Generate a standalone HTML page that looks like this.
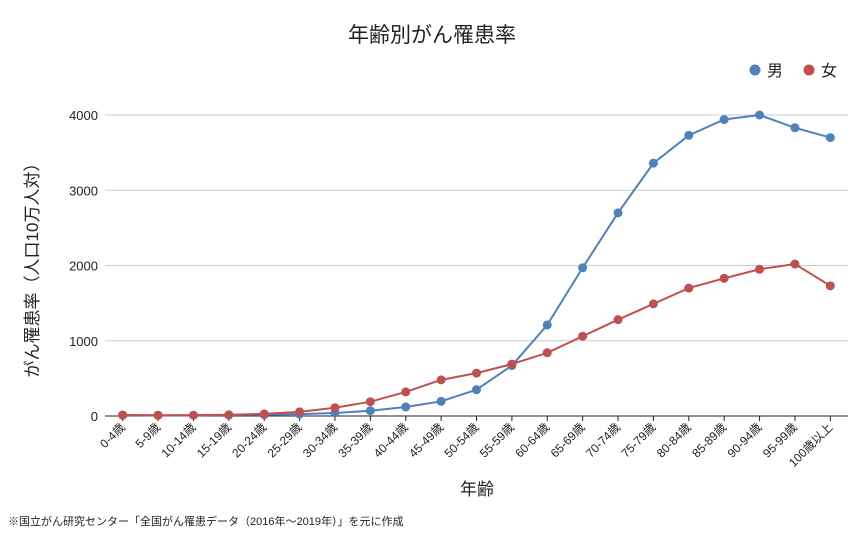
<!DOCTYPE html>
<html><head><meta charset="utf-8"><style>
body{margin:0;background:#fff;}
svg text{font-family:"Liberation Sans","Noto Sans CJK JP",sans-serif;}
</style></head><body>
<svg id="c" width="863" height="537" viewBox="0 0 863 537" xmlns="http://www.w3.org/2000/svg">
<text x="432" y="42" text-anchor="middle" font-size="21" fill="#222">年齢別がん罹患率</text>
<g>
<g><circle cx="755" cy="70" r="5.5" fill="#4f81bd"/><text x="767" y="76" font-size="16" fill="#222">男</text></g>
<g><circle cx="809" cy="70" r="5.5" fill="#c0504d"/><text x="821" y="76" font-size="16" fill="#222">女</text></g>
</g>
<g id="grid"></g>
<g id="plot"></g>
<text transform="translate(38,266) rotate(-90)" text-anchor="middle" font-size="17" fill="#222">がん罹患率（人口10万人対）</text>
<text x="477" y="495" text-anchor="middle" font-size="17" fill="#222">年齢</text>
<text x="8" y="525" font-size="11" fill="#222">※国立がん研究センター「全国がん罹患データ（2016年～2019年）」を元に作成</text>
</svg>
<script>
const categories=["0-4歳","5-9歳","10-14歳","15-19歳","20-24歳","25-29歳","30-34歳","35-39歳","40-44歳","45-49歳","50-54歳","55-59歳","60-64歳","65-69歳","70-74歳","75-79歳","80-84歳","85-89歳","90-94歳","95-99歳","100歳以上"];
const male=[12,10,10,13,18,25,40,70,120,195,350,670,1210,1970,2700,3360,3730,3940,4000,3830,3700];
const female=[12,9,10,16,28,55,110,190,320,480,570,690,840,1060,1280,1490,1700,1830,1950,2020,1730];
const yTicks=[0,1000,2000,3000,4000];
const NS="http://www.w3.org/2000/svg";
const x0=105,x1=848,yBase=416,yTop=115,yMax=4000;
const step=(x1-x0)/categories.length;
const xs=i=>x0+step*(i+0.5);
const ys=v=>yBase-(v/yMax)*(yBase-yTop);
function mk(t,a,p){const e=document.createElementNS(NS,t);for(const k in a)e.setAttribute(k,a[k]);p.appendChild(e);return e;}
const grid=document.getElementById('grid'),plot=document.getElementById('plot');
yTicks.forEach(v=>{
 if(v>0){const l=mk('line',{x1:x0,x2:x1,y1:ys(v),y2:ys(v),stroke:'#ccc','stroke-width':1},grid);
 }
 const t=mk('text',{x:98,y:ys(v)+5,'text-anchor':'end','font-size':13,fill:'#222'},grid);t.textContent=v;
 
});
const ax=mk('line',{x1:x0,x2:x1,y1:yBase,y2:yBase,stroke:'#222','stroke-width':1},grid);

categories.forEach((c,i)=>{
 const tk=mk('line',{x1:xs(i),x2:xs(i),y1:yBase,y2:yBase+5,stroke:'#222'},grid);
 
 const t=mk('text',{transform:`translate(${xs(i)+3},${yBase+12}) rotate(-45)`,'text-anchor':'end','font-size':12,fill:'#222'},grid);
 t.textContent=c;
});
function series(vals,color,name){
 const g=mk('g',{},plot);
 const pl=mk('polyline',{points:vals.map((v,i)=>xs(i)+','+ys(v)).join(' '),fill:'none',stroke:color,'stroke-width':2},g);
 
 vals.forEach((v,i)=>{const p=mk('circle',{cx:xs(i),cy:ys(v),r:4.5,fill:color},g);
  });
}
series(male,'#4f81bd','male');
series(female,'#c0504d','female');
</script>
</body></html>
